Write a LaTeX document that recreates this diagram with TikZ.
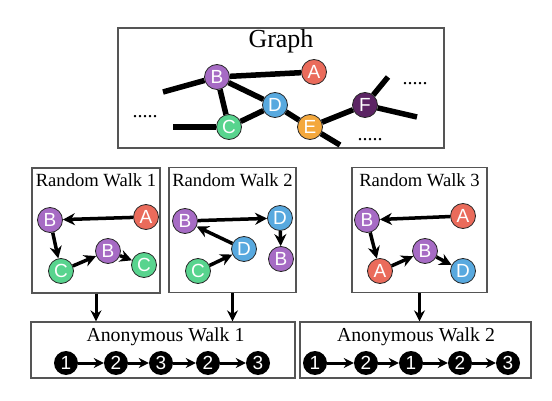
\documentclass[tikz,border=0pt]{standalone}
\usepackage{fontspec}
\setmainfont{Liberation Serif}
\setsansfont{Liberation Sans}
\usetikzlibrary{arrows.meta}
\definecolor{VertexA}{HTML}{EA6B5B}
\definecolor{VertexB}{HTML}{A66BC4}
\definecolor{VertexC}{HTML}{58D48E}
\definecolor{VertexD}{HTML}{58A9DF}
\definecolor{VertexE}{HTML}{F4A83C}
\definecolor{VertexF}{HTML}{5C2464}
\definecolor{PanelGray}{HTML}{555555}
\tikzset{
    % Panel boxes
    panelbox/.style={
        rectangle,
        draw=PanelGray,
        line width=1.3pt,
        inner sep=0pt
    },
    paneltitle/.style={
        anchor=base,
        inner sep=0pt,
        font=\fontsize{18.6}{20}\selectfont
    },
    % Vertex styles
    vertex/.style={
        circle,
        draw=black!85,
        line width=0.8pt,
        minimum size=25pt,
        inner sep=0pt,
        text=white,
        font=\sffamily\fontsize{19}{19}\selectfont
    },
    anonvertex/.style={
        circle,
        fill=black,
        minimum size=24pt,
        inner sep=0pt,
        text=white,
        font=\sffamily\fontsize{19}{19}\selectfont
    },
    % Edge and arrow styles
    graphedge/.style={
        line width=5.5pt,
        black
    },
    walkarrow/.style={
        -{Stealth[length=12pt,width=12pt]},
        line width=3.5pt,
        black
    },
    anonarrow/.style={
        -{Stealth[length=10pt,width=10pt]},
        line width=3pt,
        black
    },
    downarrow/.style={
        -{Stealth[length=11pt,width=11pt]},
        line width=3pt,
        black
    },
    dotsnode/.style={
        anchor=base,
        inner sep=0pt,
        font=\fontsize{20}{20}\selectfont
    }
}

\begin{document}
\begin{tikzpicture}[x=1pt, y=-1pt]
    \useasboundingbox (0,0) rectangle (552,401);

    % Graph panel
    \node[panelbox, minimum width=326pt, minimum height=120pt] (graphbox) at (281,88) {};
    \node[paneltitle, font=\fontsize{26}{28}\selectfont] (graphtitle) at (281,48) {Graph};

    \node[vertex, fill=VertexB] (gB) at (217,77) {B};
    \node[vertex, fill=VertexA] (gA) at (314,72) {A};
    \node[vertex, fill=VertexD] (gD) at (275,105) {D};
    \node[vertex, fill=VertexC] (gC) at (229,127) {C};
    \node[vertex, fill=VertexE] (gE) at (310,127) {E};
    \node[vertex, fill=VertexF] (gF) at (365,105) {F};

    \coordinate (gBout) at (163,92);
    \coordinate (gCout) at (173,127);
    \coordinate (gEout) at (340,145);
    \coordinate (gFup) at (388,77);
    \coordinate (gFout) at (417,117);

    \draw[graphedge] (gB) -- (gA);
    \draw[graphedge] (gB) -- (gBout);
    \draw[graphedge] (gB) -- (gC);
    \draw[graphedge] (gB) -- (gD);
    \draw[graphedge] (gC) -- (gCout);
    \draw[graphedge] (gC) -- (gD);
    \draw[graphedge] (gD) -- (gE);
    \draw[graphedge] (gE) -- (gF);
    \draw[graphedge] (gE) -- (gEout);
    \draw[graphedge] (gF) -- (gFup);
    \draw[graphedge] (gF) -- (gFout);

    \node[dotsnode] (dotsleft) at (145,118) {.....};
    \node[dotsnode] (dotsright) at (415,85) {.....};
    \node[dotsnode] (dotsbottom) at (370,141) {.....};

    % Random walk 1
    \node[panelbox, minimum width=128pt, minimum height=125pt] (rw1) at (96,230.5) {};
    \node[paneltitle] (rw1title) at (96,187) {Random Walk 1};
    \node[vertex, fill=VertexB] (rw1b) at (50,220) {B};
    \node[vertex, fill=VertexA] (rw1a) at (146,217) {A};
    \node[vertex, fill=VertexC] (rw1c) at (61,271) {C};
    \node[vertex, fill=VertexB] (rw1bb) at (108,251) {B};
    \node[vertex, fill=VertexC] (rw1cc) at (144,265) {C};
    \draw[walkarrow] (rw1a) -- (rw1b);
    \draw[walkarrow] (rw1b) -- (rw1c);
    \draw[walkarrow] (rw1c) -- (rw1bb);
    \draw[walkarrow] (rw1bb) -- (rw1cc);

    % Random walk 2
    \node[panelbox, minimum width=127pt, minimum height=125pt] (rw2) at (232.5,230) {};
    \node[paneltitle] (rw2title) at (232.5,187) {Random Walk 2};
    \node[vertex, fill=VertexB] (rw2b) at (185,221) {B};
    \node[vertex, fill=VertexD] (rw2d) at (280,218) {D};
    \node[vertex, fill=VertexD] (rw2dd) at (244,249) {D};
    \node[vertex, fill=VertexC] (rw2c) at (198,271) {C};
    \node[vertex, fill=VertexB] (rw2bb) at (281,259) {B};
    \draw[walkarrow] (rw2c) -- (rw2dd);
    \draw[walkarrow] (rw2dd) -- (rw2b);
    \draw[walkarrow] (rw2b) -- (rw2d);
    \draw[walkarrow] (rw2d) -- (rw2bb);

    % Random walk 3
    \node[panelbox, minimum width=135pt, minimum height=125pt] (rw3) at (419.5,230) {};
    \node[paneltitle] (rw3title) at (419.5,187) {Random Walk 3};
    \node[vertex, fill=VertexB] (rw3b) at (367,220) {B};
    \node[vertex, fill=VertexA] (rw3a) at (463,216) {A};
    \node[vertex, fill=VertexA] (rw3aa) at (380,271) {A};
    \node[vertex, fill=VertexB] (rw3bb) at (425,251) {B};
    \node[vertex, fill=VertexD] (rw3d) at (463,271) {D};
    \draw[walkarrow] (rw3a) -- (rw3b);
    \draw[walkarrow] (rw3b) -- (rw3aa);
    \draw[walkarrow] (rw3aa) -- (rw3bb);
    \draw[walkarrow] (rw3bb) -- (rw3d);

    % Anonymous walk 1
    \node[panelbox, minimum width=264pt, minimum height=56pt] (aw1) at (163,350) {};
    \node[paneltitle, font=\fontsize{19.8}{22}\selectfont] (aw1title) at (165.5,341) {Anonymous Walk 1};
    \node[anonvertex] (aw1n1) at (66,363) {1};
    \node[anonvertex] (aw1n2) at (116,363) {2};
    \node[anonvertex] (aw1n3) at (161,363) {3};
    \node[anonvertex] (aw1n4) at (208,363) {2};
    \node[anonvertex] (aw1n5) at (258,363) {3};
    \draw[anonarrow] (aw1n1) -- (aw1n2);
    \draw[anonarrow] (aw1n2) -- (aw1n3);
    \draw[anonarrow] (aw1n3) -- (aw1n4);
    \draw[anonarrow] (aw1n4) -- (aw1n5);

    % Anonymous walk 2
    \node[panelbox, minimum width=231pt, minimum height=56pt] (aw2) at (415.5,350) {};
    \node[paneltitle, font=\fontsize{19.8}{22}\selectfont] (aw2title) at (416,341) {Anonymous Walk 2};
    \node[anonvertex] (aw2n1) at (315,363) {1};
    \node[anonvertex] (aw2n2) at (366,363) {2};
    \node[anonvertex] (aw2n3) at (411,363) {1};
    \node[anonvertex] (aw2n4) at (460,363) {2};
    \node[anonvertex] (aw2n5) at (508,363) {3};
    \draw[anonarrow] (aw2n1) -- (aw2n2);
    \draw[anonarrow] (aw2n2) -- (aw2n3);
    \draw[anonarrow] (aw2n3) -- (aw2n4);
    \draw[anonarrow] (aw2n4) -- (aw2n5);

    % Walks to anonymous walks
    \draw[downarrow] (rw1.south) -- (rw1.south |- aw1.north);
    \draw[downarrow] (rw2.south) -- (rw2.south |- aw1.north);
    \draw[downarrow] (rw3.south) -- (rw3.south |- aw2.north);
\end{tikzpicture}
\end{document}
